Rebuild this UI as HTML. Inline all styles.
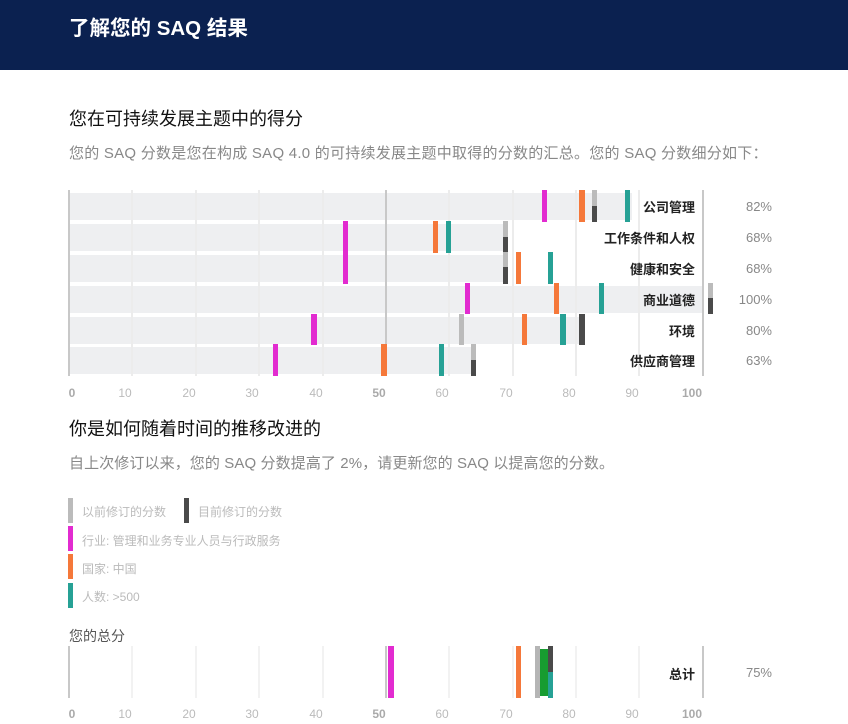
<!DOCTYPE html>
<html><head><meta charset="utf-8"><style>
*{margin:0;padding:0;box-sizing:border-box}
body{width:848px;height:724px;background:#fff;position:relative;overflow:hidden;font-family:"Liberation Sans","Noto Sans CJK SC",sans-serif}
.a{position:absolute}
.hdr{left:0;top:0;width:848px;height:70px;background:#0b2150}
.t{white-space:nowrap}
.g{background:#ececec;width:2px}
.bg{background:#eeeff1;height:27px}
.lab{font-size:13px;font-weight:bold;color:#222;text-align:right;width:160px}
.pct{font-size:13px;color:#888;text-align:right;width:60px}
.tick{font-size:12px;color:#bbb;width:30px;text-align:center;font-weight:bold}
.lg{font-size:12px;color:#bbb}
</style></head><body>
<div class="a hdr"></div>
<div class="a t" style="left:69px;top:11px;font-size:20.5px;color:#fff;font-weight:bold">了解您的 SAQ 结果</div>
<div class="a t" style="left:69px;top:105px;font-size:18px;color:#111">您在可持续发展主题中的得分</div>
<div class="a t" style="left:69px;top:142px;font-size:15px;color:#888;letter-spacing:0.25px">您的 SAQ 分数是您在构成 SAQ 4.0 的可持续发展主题中取得的分数的汇总。您的 SAQ 分数细分如下：</div>

<div class="a bg" style="left:70px;top:193px;width:562px"></div>
<div class="a bg" style="left:70px;top:224px;width:436px"></div>
<div class="a bg" style="left:70px;top:255px;width:436px"></div>
<div class="a bg" style="left:70px;top:286px;width:633px"></div>
<div class="a bg" style="left:70px;top:317px;width:513px"></div>
<div class="a bg" style="left:70px;top:347px;width:404px"></div>

<div class="a g" style="left:131px;top:190px;height:186px"></div>
<div class="a g" style="left:195px;top:190px;height:186px"></div>
<div class="a g" style="left:258px;top:190px;height:186px"></div>
<div class="a g" style="left:322px;top:190px;height:186px"></div>
<div class="a" style="left:385px;top:190px;height:186px;width:2px;background:#c8c8c8"></div>
<div class="a g" style="left:448px;top:190px;height:186px"></div>
<div class="a g" style="left:512px;top:190px;height:186px"></div>
<div class="a g" style="left:575px;top:190px;height:186px"></div>
<div class="a g" style="left:638px;top:190px;height:186px"></div>
<div class="a" style="left:68px;top:190px;height:186px;width:2px;background:#c8c8c8"></div>
<div class="a" style="left:702px;top:190px;height:186px;width:2px;background:#c8c8c8"></div>

<div class="a" style="left:542px;top:190px;width:5px;height:32px;background:#e22bd0"></div>
<div class="a" style="left:579px;top:190px;width:6px;height:32px;background:#f5783a"></div>
<div class="a" style="left:592px;top:190px;width:5px;height:16px;background:#bbb"></div>
<div class="a" style="left:592px;top:206px;width:5px;height:16px;background:#4a4a4a"></div>
<div class="a" style="left:625px;top:190px;width:5px;height:32px;background:#26a195"></div>
<div class="a" style="left:343px;top:221px;width:5px;height:63px;background:#e22bd0"></div>
<div class="a" style="left:433px;top:221px;width:5px;height:32px;background:#f5783a"></div>
<div class="a" style="left:446px;top:221px;width:5px;height:32px;background:#26a195"></div>
<div class="a" style="left:503px;top:221px;width:5px;height:16px;background:#bbb"></div>
<div class="a" style="left:503px;top:237px;width:5px;height:16px;background:#4a4a4a"></div>
<div class="a" style="left:503px;top:252px;width:5px;height:15px;background:#bbb"></div>
<div class="a" style="left:503px;top:267px;width:5px;height:17px;background:#4a4a4a"></div>
<div class="a" style="left:516px;top:252px;width:5px;height:32px;background:#f5783a"></div>
<div class="a" style="left:548px;top:252px;width:5px;height:32px;background:#26a195"></div>
<div class="a" style="left:465px;top:283px;width:5px;height:31px;background:#e22bd0"></div>
<div class="a" style="left:554px;top:283px;width:5px;height:31px;background:#f5783a"></div>
<div class="a" style="left:599px;top:283px;width:5px;height:31px;background:#26a195"></div>
<div class="a" style="left:708px;top:283px;width:5px;height:15px;background:#bbb"></div>
<div class="a" style="left:708px;top:298px;width:5px;height:16px;background:#4a4a4a"></div>
<div class="a" style="left:311px;top:314px;width:6px;height:31px;background:#e22bd0"></div>
<div class="a" style="left:459px;top:314px;width:5px;height:31px;background:#bbb"></div>
<div class="a" style="left:522px;top:314px;width:5px;height:31px;background:#f5783a"></div>
<div class="a" style="left:560px;top:314px;width:6px;height:31px;background:#26a195"></div>
<div class="a" style="left:579px;top:314px;width:6px;height:31px;background:#4a4a4a"></div>
<div class="a" style="left:273px;top:344px;width:5px;height:32px;background:#e22bd0"></div>
<div class="a" style="left:381px;top:344px;width:6px;height:32px;background:#f5783a"></div>
<div class="a" style="left:439px;top:344px;width:5px;height:32px;background:#26a195"></div>
<div class="a" style="left:471px;top:344px;width:5px;height:16px;background:#bbb"></div>
<div class="a" style="left:471px;top:360px;width:5px;height:16px;background:#4a4a4a"></div>

<div class="a t lab" style="left:535px;top:197px">公司管理</div>
<div class="a t lab" style="left:535px;top:228px">工作条件和人权</div>
<div class="a t lab" style="left:535px;top:259px">健康和安全</div>
<div class="a t lab" style="left:535px;top:290px">商业道德</div>
<div class="a t lab" style="left:535px;top:321px">环境</div>
<div class="a t lab" style="left:535px;top:351px">供应商管理</div>
<div class="a t pct" style="left:712px;top:199px">82%</div>
<div class="a t pct" style="left:712px;top:230px">68%</div>
<div class="a t pct" style="left:712px;top:261px">68%</div>
<div class="a t pct" style="left:712px;top:292px">100%</div>
<div class="a t pct" style="left:712px;top:323px">80%</div>
<div class="a t pct" style="left:712px;top:353px">63%</div>

<div class="a t tick" style="left:57px;top:386px;color:#aaa">0</div>
<div class="a t tick" style="left:110px;top:386px;font-weight:normal">10</div>
<div class="a t tick" style="left:174px;top:386px;font-weight:normal">20</div>
<div class="a t tick" style="left:237px;top:386px;font-weight:normal">30</div>
<div class="a t tick" style="left:301px;top:386px;font-weight:normal">40</div>
<div class="a t tick" style="left:364px;top:386px;color:#aaa">50</div>
<div class="a t tick" style="left:427px;top:386px;font-weight:normal">60</div>
<div class="a t tick" style="left:491px;top:386px;font-weight:normal">70</div>
<div class="a t tick" style="left:554px;top:386px;font-weight:normal">80</div>
<div class="a t tick" style="left:617px;top:386px;font-weight:normal">90</div>
<div class="a t tick" style="left:677px;top:386px;color:#aaa">100</div>

<div class="a t" style="left:69px;top:415px;font-size:18px;color:#111">你是如何随着时间的推移改进的</div>
<div class="a t" style="left:69px;top:452px;font-size:15px;color:#888;letter-spacing:0.1px">自上次修订以来，您的 SAQ 分数提高了 2%，请更新您的 SAQ 以提高您的分数。</div>

<div class="a" style="left:68px;top:498px;width:5px;height:25px;background:#bbb"></div>
<div class="a t lg" style="left:82px;top:503px">以前修订的分数</div>
<div class="a" style="left:184px;top:498px;width:5px;height:25px;background:#4a4a4a"></div>
<div class="a t lg" style="left:198px;top:503px">目前修订的分数</div>
<div class="a" style="left:68px;top:526px;width:5px;height:25px;background:#e22bd0"></div>
<div class="a t lg" style="left:82px;top:532px">行业: 管理和业务专业人员与行政服务</div>
<div class="a" style="left:68px;top:554px;width:5px;height:25px;background:#f5783a"></div>
<div class="a t lg" style="left:82px;top:560px">国家: 中国</div>
<div class="a" style="left:68px;top:583px;width:5px;height:25px;background:#26a195"></div>
<div class="a t lg" style="left:82px;top:588px">人数: &gt;500</div>

<div class="a t" style="left:69px;top:626px;font-size:14px;color:#555">您的总分</div>

<div class="a g" style="left:131px;top:646px;height:52px;background:#f2f2f2"></div>
<div class="a g" style="left:195px;top:646px;height:52px;background:#f2f2f2"></div>
<div class="a g" style="left:258px;top:646px;height:52px;background:#f2f2f2"></div>
<div class="a g" style="left:322px;top:646px;height:52px;background:#f2f2f2"></div>
<div class="a g" style="left:448px;top:646px;height:52px;background:#f2f2f2"></div>
<div class="a g" style="left:512px;top:646px;height:52px;background:#f2f2f2"></div>
<div class="a g" style="left:575px;top:646px;height:52px;background:#f2f2f2"></div>
<div class="a g" style="left:638px;top:646px;height:52px;background:#f2f2f2"></div>
<div class="a" style="left:385px;top:646px;height:52px;width:2px;background:#c8c8c8"></div>
<div class="a" style="left:68px;top:646px;height:52px;width:2px;background:#c8c8c8"></div>
<div class="a" style="left:702px;top:646px;height:52px;width:2px;background:#c8c8c8"></div>
<div class="a" style="left:388px;top:646px;width:6px;height:52px;background:#e22bd0"></div>
<div class="a" style="left:516px;top:646px;width:5px;height:52px;background:#f5783a"></div>
<div class="a" style="left:535px;top:646px;width:5px;height:52px;background:#b5b5b5"></div>
<div class="a" style="left:540px;top:649px;width:8px;height:47px;background:#179c30"></div>
<div class="a" style="left:548px;top:646px;width:5px;height:26px;background:#4a4a4a"></div>
<div class="a" style="left:548px;top:672px;width:5px;height:26px;background:#26a195"></div>
<div class="a t lab" style="left:535px;top:664px">总计</div>
<div class="a t pct" style="left:712px;top:665px">75%</div>

<div class="a t tick" style="left:57px;top:707px;color:#aaa">0</div>
<div class="a t tick" style="left:110px;top:707px;font-weight:normal">10</div>
<div class="a t tick" style="left:174px;top:707px;font-weight:normal">20</div>
<div class="a t tick" style="left:237px;top:707px;font-weight:normal">30</div>
<div class="a t tick" style="left:301px;top:707px;font-weight:normal">40</div>
<div class="a t tick" style="left:364px;top:707px;color:#aaa">50</div>
<div class="a t tick" style="left:427px;top:707px;font-weight:normal">60</div>
<div class="a t tick" style="left:491px;top:707px;font-weight:normal">70</div>
<div class="a t tick" style="left:554px;top:707px;font-weight:normal">80</div>
<div class="a t tick" style="left:617px;top:707px;font-weight:normal">90</div>
<div class="a t tick" style="left:677px;top:707px;color:#aaa">100</div>
</body></html>
